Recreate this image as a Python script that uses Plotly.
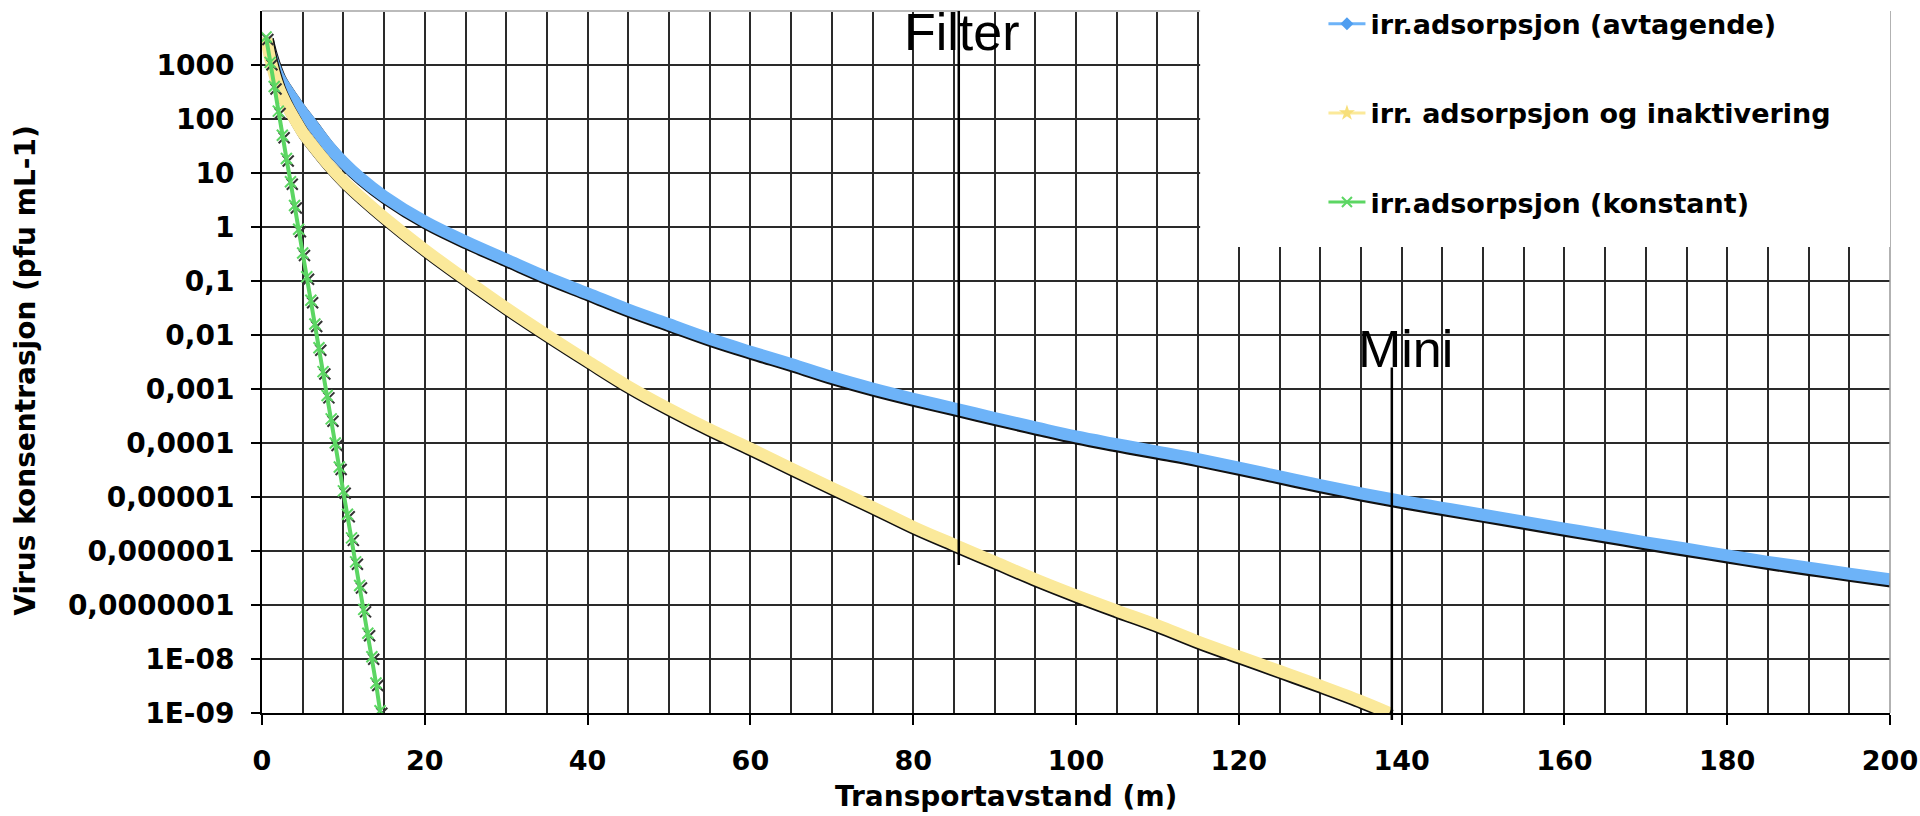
import plotly.graph_objects as go

# ---------------- data ----------------
x_blue = [0.5, 1, 2, 3, 4, 5, 6, 8, 10, 12, 15, 20, 25, 30, 35, 40, 45, 50, 55, 60,
          65, 70, 75, 80, 85, 90, 95, 100, 105, 110, 115, 120, 125, 130, 135, 140,
          145, 150, 155, 160, 165, 170, 175, 180, 185, 190, 195, 200]
y_blue = [3311, 1660, 631, 355, 214, 132, 85, 34, 15.8, 8.3, 3.7, 1.26, 0.54, 0.25,
          0.117, 0.059, 0.0295, 0.0158, 0.0085, 0.0049, 0.0029, 0.00166, 0.00102,
          6.6e-4, 4.4e-4, 2.9e-4, 1.95e-4, 1.32e-4, 9.5e-5, 6.9e-5, 5.0e-5, 3.5e-5,
          2.4e-5, 1.66e-5, 1.17e-5, 8.5e-6, 6.3e-6, 4.7e-6, 3.5e-6, 2.6e-6, 1.95e-6,
          1.45e-6, 1.1e-6, 8.3e-7, 6.3e-7, 4.9e-7, 3.8e-7, 3.0e-7]

x_yellow = [0.5, 1, 2, 3, 4, 5, 6, 8, 10, 12, 15, 20, 25, 30, 35, 40, 45, 50, 55, 60,
            65, 70, 75, 80, 85, 90, 95, 100, 105, 110, 115, 120, 125, 130, 135, 138.5]
y_yellow = [3311, 1318, 398, 186, 100, 56, 35.5, 15.1, 7.1, 3.7, 1.51, 0.38, 0.107,
            0.0316, 0.01, 0.0033, 0.00112, 4.3e-4, 1.78e-4, 7.9e-5, 3.4e-5, 1.48e-5,
            6.5e-6, 2.8e-6, 1.32e-6, 6.3e-7, 3.0e-7, 1.51e-7, 7.9e-8, 4.2e-8, 2.1e-8,
            1.12e-8, 6.0e-9, 3.2e-9, 1.66e-9, 1.0e-9]

x_green = [0.5, 1.0, 1.5, 2.0, 2.5, 3.0, 3.5, 4.0, 4.5, 5.0, 5.5, 6.0, 6.5, 7.0, 7.5,
           8.0, 8.5, 9.0, 9.5, 10.0, 10.5, 11.0, 11.5, 12.0, 12.5, 13.0, 13.5, 14.0, 14.5]
y_green = [3300, 1120, 400, 140, 50, 18.6, 6.9, 2.5, 0.91, 0.33, 0.12, 0.044, 0.016,
           0.0058, 0.0021, 7.6e-4, 2.8e-4, 1.0e-4, 3.6e-5, 1.3e-5, 4.8e-6, 1.75e-6,
           6.3e-7, 2.3e-7, 8.3e-8, 3.0e-8, 1.1e-8, 3.6e-9, 1.1e-9]

names = ["irr.adsorpsjon (avtagende)",
         "irr. adsorpsjon og inaktivering",
         "irr.adsorpsjon (konstant)"]

y_tickvals = [1e-9, 1e-8, 1e-7, 1e-6, 1e-5, 1e-4, 1e-3, 1e-2, 1e-1, 1, 10, 100, 1000]
y_ticktext = ["1E-09", "1E-08", "0,0000001", "0,000001", "0,00001", "0,0001",
              "0,001", "0,01", "0,1", "1", "10", "100", "1000"]

filter_x = 85.6
mini_x = 138.8

# ---------------- styling ----------------
BLUE = "#6db3f8"
BLUE_DARK = "#4f9ef0"
YELLOW = "#fbe99a"
GREEN = "#5cd663"
GRID = "#2a2a2a"
FONT_Y = dict(family="DejaVu Sans", size=28, color="black", weight="bold")
FONT_X = dict(family="DejaVu Sans", size=27, color="black", weight="bold")

SH_DX = 0.22      # shadow offset (x units)
SH_FY = 0.90      # shadow offset (multiplicative on log axis)

fig = go.Figure()

def shadow(xs, ys):
    return [v + SH_DX for v in xs], [v * SH_FY for v in ys]

# blue band
sx, sy = shadow(x_blue, y_blue)
fig.add_trace(go.Scatter(x=sx, y=sy, mode="lines", line=dict(color="#111", width=12, shape="spline"),
                         showlegend=False, hoverinfo="skip"))
fig.add_trace(go.Scatter(x=x_blue, y=y_blue, mode="lines", line=dict(color=BLUE, width=12, shape="spline"),
                         showlegend=False))
# yellow band
sx, sy = shadow(x_yellow, y_yellow)
fig.add_trace(go.Scatter(x=sx, y=sy, mode="lines", line=dict(color="#111", width=12, shape="spline"),
                         showlegend=False, hoverinfo="skip"))
fig.add_trace(go.Scatter(x=x_yellow, y=y_yellow, mode="lines", line=dict(color=YELLOW, width=12, shape="spline"),
                         showlegend=False))
# green line with x markers and shadow markers
sx, sy = shadow(x_green, y_green)
fig.add_trace(go.Scatter(x=sx, y=sy, mode="markers",
                         marker=dict(symbol="x-thin", size=11, line=dict(width=2, color="#333")),
                         showlegend=False, hoverinfo="skip"))
fig.add_trace(go.Scatter(x=x_green, y=y_green, mode="lines+markers",
                         line=dict(color=GREEN, width=4),
                         marker=dict(symbol="x-thin", size=11, color=GREEN, line=dict(width=2, color=GREEN)),
                         showlegend=False))

# legend-only traces
fig.add_trace(go.Scatter(x=[None], y=[None], mode="lines+markers", name=names[0], legendgroup="a",
                         line=dict(color=BLUE, width=3), marker=dict(symbol="diamond", size=10, color=BLUE_DARK)))
fig.add_trace(go.Scatter(x=[None], y=[None], mode="lines+markers", name=names[1], legendgroup="b",
                         line=dict(color=YELLOW, width=3), marker=dict(symbol="star", size=12, color="#f7df7a")))
fig.add_trace(go.Scatter(x=[None], y=[None], mode="lines+markers", name=names[2], legendgroup="c",
                         line=dict(color=GREEN, width=3),
                         marker=dict(symbol="x-thin", size=10, color=GREEN, line=dict(width=2, color=GREEN))))

shapes = [
    # top border (gray) and right border
    dict(type="line", xref="paper", yref="paper", x0=0, x1=1, y0=1, y1=1,
         line=dict(color="#bbbbbb", width=2), layer="above"),
    dict(type="line", xref="paper", yref="paper", x0=1, x1=1, y0=0, y1=1,
         line=dict(color="#999999", width=1.5), layer="above"),
    # white legend area covering the upper-right part of the grid
    dict(type="rect", xref="x", yref="paper", x0=115.25, x1=215, y0=0.6637, y1=1.1,
         fillcolor="white", line=dict(width=0), layer="above"),
    # Filter & Mini marker lines
    dict(type="line", xref="x", yref="paper", x0=filter_x, x1=filter_x, y0=0.211, y1=1.0,
         line=dict(color="black", width=2.5), layer="above"),
    dict(type="line", xref="x", yref="paper", x0=mini_x, x1=mini_x, y0=-0.01, y1=0.492,
         line=dict(color="black", width=2.5), layer="above"),
]

annotations = [
    dict(text="Filter", x=filter_x + 0.4, xref="x", y=0.970, yref="paper", showarrow=False,
         font=dict(family="Liberation Sans", size=52, color="black"), xanchor="center", yanchor="middle"),
    dict(text="Mini", x=mini_x + 1.7, xref="x", y=0.5185, yref="paper", showarrow=False,
         font=dict(family="Liberation Sans", size=52, color="black"), xanchor="center", yanchor="middle"),
    dict(text="Transportavstand (m)", x=0.457, xref="paper", y=-0.119, yref="paper", showarrow=False,
         font=dict(family="DejaVu Sans", size=28, color="black", weight="bold"),
         xanchor="center", yanchor="middle"),
    dict(text="Virus konsentrasjon (pfu mL-1)", x=-0.1458, xref="paper", y=0.487, yref="paper",
         showarrow=False, textangle=-90,
         font=dict(family="DejaVu Sans", size=28, color="black", weight="bold"),
         xanchor="center", yanchor="middle"),
]

fig.update_layout(
    width=1920, height=816,
    margin=dict(l=262, r=30, t=11, b=103, autoexpand=False),
    paper_bgcolor="white", plot_bgcolor="white",
    shapes=shapes, annotations=annotations,
    showlegend=True,
    legend=dict(x=0.652, xanchor="left", y=1.016, yanchor="top",
                font=dict(family="DejaVu Sans", size=27, color="black", weight="bold"),
                tracegroupgap=51, itemwidth=37, bgcolor="rgba(0,0,0,0)"),
    xaxis=dict(range=[0, 200], tick0=0, dtick=20, showgrid=True, gridcolor=GRID, gridwidth=2,
               ticks="outside", ticklen=10, tickwidth=2, tickcolor="black",
               showline=True, linecolor="black", linewidth=2, zeroline=False,
               tickfont=FONT_X, ticklabelstandoff=13, automargin=False,
               ticklabeloverflow="allow",
               minor=dict(dtick=5, tick0=0, showgrid=True, gridcolor=GRID, gridwidth=2, ticks="")),
    yaxis=dict(type="log", range=[-9, 4], tickvals=y_tickvals, ticktext=y_ticktext,
               showgrid=True, gridcolor=GRID, gridwidth=2,
               ticks="outside", ticklen=9, tickwidth=2, tickcolor="black",
               showline=True, linecolor="black", linewidth=2, zeroline=False,
               tickfont=FONT_Y, ticklabelstandoff=11, automargin=False),
)

# remove the default page margin so the 1920x816 figure fills the window exactly
fig.write_html("out.html",
               config={"displayModeBar": False},
               post_script="document.body.style.margin='0';document.body.style.overflow='hidden';")
